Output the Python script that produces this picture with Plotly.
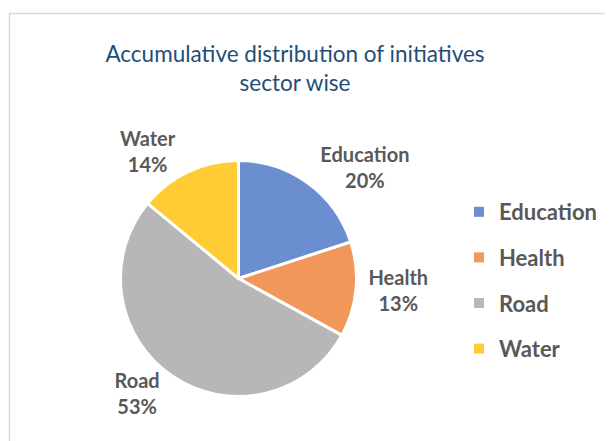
import plotly.graph_objects as go

categories = ["Education", "Health", "Road", "Water"]
shares = [20, 13, 53, 14]
colors = ["#6A8ED0", "#F1975A", "#B7B7B7", "#FFCC33"]
title_text = "Accumulative distribution of initiatives<br>sector wise"

W, H = 613, 441
OFF = 8  # page body margin of the browser


def px_x(v):
    return (v - OFF) / W


def px_y(v):
    return 1 - (v - OFF) / H


fig = go.Figure()

fig.add_trace(go.Pie(
    labels=categories,
    values=shares,
    sort=False,
    direction="clockwise",
    rotation=0,
    marker=dict(colors=colors, line=dict(color="white", width=3)),
    texttemplate="<b>%{label}<br>%{value}%</b>",
    textposition="outside",
    textfont=dict(family="Lato", size=20, color="#595959"),
    domain=dict(x=[px_x(120.5), px_x(356.5)], y=[px_y(396.5), px_y(160.5)]),
    showlegend=False,
    hoverinfo="label+percent",
))

# legend entries (one group per category so the gaps can be set)
for name, col in zip(categories, colors):
    fig.add_trace(go.Scatter(
        x=[None], y=[None], mode="markers", name=name,
        legendgroup=name,
        marker=dict(symbol="square", size=10, color=col),
        showlegend=True,
    ))

fig.update_layout(
    width=W, height=H,
    margin=dict(l=0, r=0, t=0, b=0),
    paper_bgcolor="white",
    plot_bgcolor="white",
    xaxis=dict(visible=False),
    yaxis=dict(visible=False),
    title=dict(
        text=title_text,
        x=px_x(295), xanchor="center",
        y=px_y(62), yanchor="top",
        font=dict(family="Lato", size=22.5, color="#1F4E79"),
    ),
    legend=dict(
        x=px_x(459), xanchor="left",
        y=px_y(191), yanchor="top",
        font=dict(family="Lato", size=22, color="#595959", weight="bold"),
        tracegroupgap=14,
        bgcolor="rgba(0,0,0,0)",
    ),
    shapes=[dict(
        type="rect", xref="paper", yref="paper",
        x0=px_x(9.5), x1=1.1, y0=-0.1, y1=px_y(13.5),
        line=dict(color="#D9D9D9", width=1.5),
        fillcolor="rgba(0,0,0,0)", layer="below",
    )],
)

fig.write_html("out.html")
